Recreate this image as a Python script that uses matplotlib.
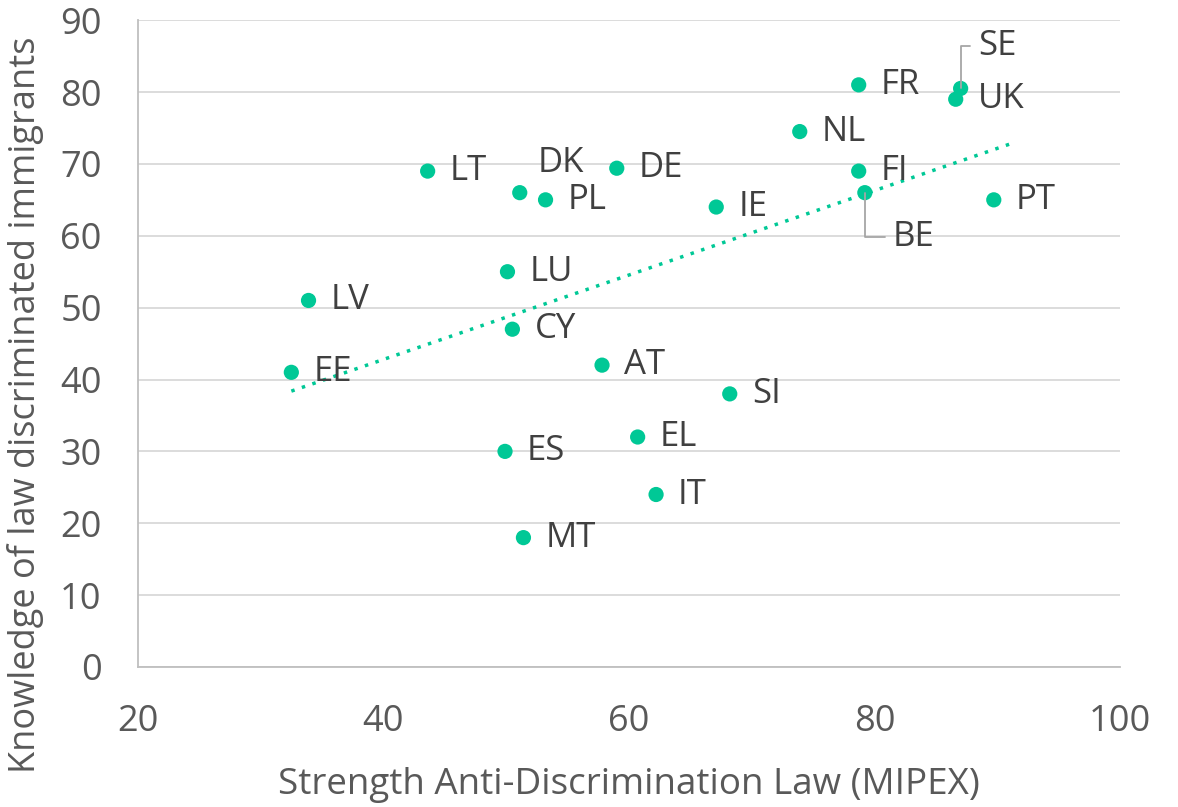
import numpy as np
import matplotlib.pyplot as plt

plt.rcParams['font.family'] = ['Open Sans', 'DejaVu Sans']

countries = ["EE", "LV", "LT", "DK", "PL", "DE", "LU", "CY", "AT", "ES", "MT",
             "EL", "IT", "SI", "IE", "NL", "FR", "FI", "BE", "SE", "UK", "PT"]
mipex = [32.5, 33.9, 43.6, 51.1, 53.2, 59.0, 50.1, 50.5, 57.8, 49.9, 51.4,
         60.7, 62.2, 68.2, 67.1, 73.9, 78.7, 78.7, 79.2, 87.0, 86.6, 89.7]
knowledge = [41, 51, 69, 66, 65, 69.4, 55, 47, 42, 30, 18,
             32, 24, 38, 64, 74.5, 81, 69, 66, 80.5, 79, 65]

green = "#00C896"
text_col = "#404040"
axis_col = "#595959"

fig = plt.figure(figsize=(11.78, 8.07), dpi=100)
ax = fig.add_axes([0.117, 0.1735, 0.834, 0.8015])

ax.scatter(mipex, knowledge, s=120, color=green, zorder=3, edgecolors="none")

# linear trendline
x = np.array(mipex)
slope, intercept = np.polyfit(x, knowledge, 1)
xt = np.linspace(x.min(), x.max() + 1.5, 50)
ax.plot(xt, slope * xt + intercept, linestyle=(0, (1, 2.2)), color=green, linewidth=2.5, zorder=2)

# label offsets in pixels (default: right of the point)
special = {"DK": (18, 30), "SE": (18, 42), "BE": (28, -44)}
for c, xv, yv in zip(countries, mipex, knowledge):
    dx, dy = special.get(c, (22, 0))
    if c in ("SE", "BE"):
        ax.annotate(c, (xv, yv), xytext=(dx, dy), textcoords="offset pixels",
                    fontsize=25, color=text_col, va="center", ha="left",
                    arrowprops=dict(arrowstyle="-", color="#A6A6A6", lw=1.3,
                                    connectionstyle="angle,angleA=0,angleB=90,rad=0",
                                    shrinkA=4, shrinkB=0))
    else:
        ax.annotate(c, (xv, yv), xytext=(dx, dy), textcoords="offset pixels",
                    fontsize=25, color=text_col, va="center", ha="left")

ax.set_xlim(20, 100)
ax.set_ylim(0, 90)
ax.set_xticks(np.arange(20, 101, 20))
ax.set_yticks(np.arange(0, 91, 10))
ax.tick_params(axis="both", labelsize=26, colors=axis_col, length=0)
ax.tick_params(axis="x", pad=27)
ax.tick_params(axis="y", pad=26)

ax.grid(axis="y", color="#D9D9D9", linewidth=1.3)
ax.set_axisbelow(True)
for s in ["top", "right"]:
    ax.spines[s].set_visible(False)
for s in ["left", "bottom"]:
    ax.spines[s].set_color("#BFBFBF")
    ax.spines[s].set_linewidth(1.3)

ax.set_xlabel("Strength Anti-Discrimination Law (MIPEX)", fontsize=26.5, color=axis_col, labelpad=19)
ax.set_ylabel("Knowledge of law discriminated immigrants", fontsize=26, color=axis_col)
ax.yaxis.set_label_coords(-0.095, 0.405)

fig.savefig("out.png", dpi=100)
